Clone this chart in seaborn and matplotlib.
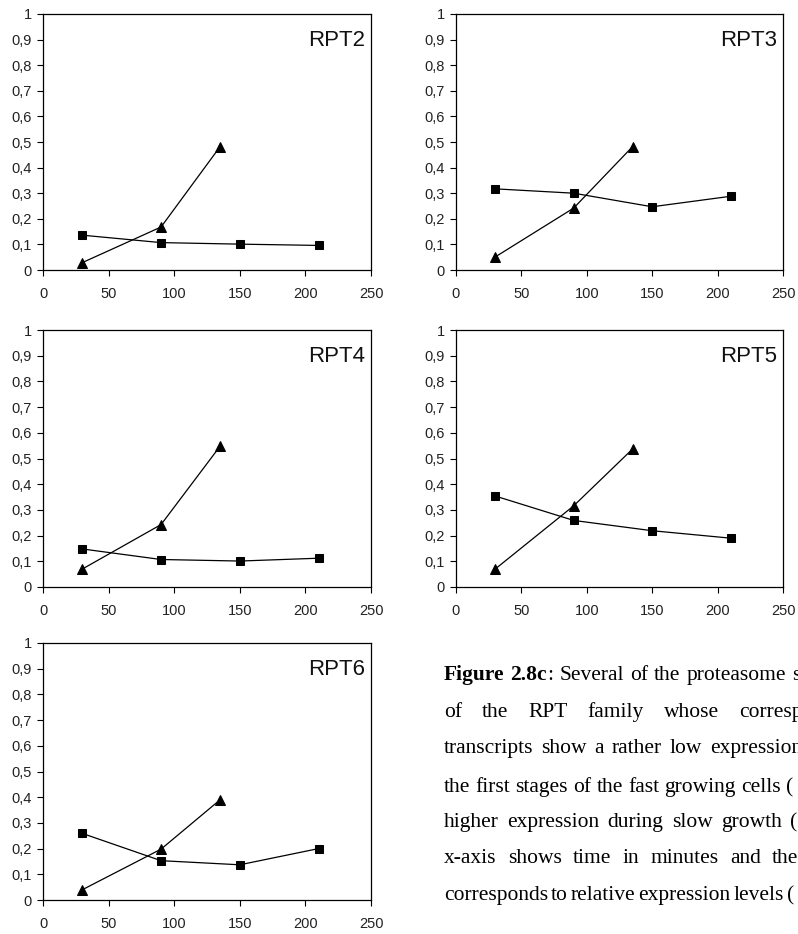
import matplotlib
matplotlib.use("Agg")
import matplotlib.pyplot as plt
import seaborn as sns

# expression data
genes = ["RPT2", "RPT3", "RPT4", "RPT5", "RPT6"]
time_slow = [30, 90, 150, 210]          # squares
time_fast = [30, 90, 135]               # triangles
slow_vals = {
    "RPT2": [0.136, 0.107, 0.101, 0.096],
    "RPT3": [0.317, 0.300, 0.247, 0.288],
    "RPT4": [0.148, 0.107, 0.101, 0.112],
    "RPT5": [0.354, 0.259, 0.219, 0.190],
    "RPT6": [0.259, 0.153, 0.137, 0.200],
}
fast_vals = {
    "RPT2": [0.029, 0.168, 0.482],
    "RPT3": [0.051, 0.242, 0.482],
    "RPT4": [0.070, 0.243, 0.548],
    "RPT5": [0.070, 0.316, 0.537],
    "RPT6": [0.040, 0.198, 0.390],
}
x_ticks = [0, 50, 100, 150, 200, 250]
y_ticks = [0, 0.1, 0.2, 0.3, 0.4, 0.5, 0.6, 0.7, 0.8, 0.9, 1]
y_labels = ["0", "0,1", "0,2", "0,3", "0,4", "0,5", "0,6", "0,7", "0,8", "0,9", "1"]

# caption as it shows on the page (cut off at the right edge)
caption_lines = [
    "Figure 2.8c : Several of the proteasome s",
    "of the RPT family whose corresp",
    "transcripts show a rather low expression",
    "the first stages of the fast growing cells (",
    "higher expression during slow growth (",
    "x-axis shows time in minutes and the",
    "corresponds to relative expression levels (",
]
bold_words = {(0, 0), (0, 1)}
glued_words = {(0, 2)}    # ":" sits right after "2.8c"

sns.set_style("ticks")
plt.rcParams["font.family"] = ["Liberation Sans", "DejaVu Sans"]

W, H = 798, 934
fig = plt.figure(figsize=(W / 100, H / 100), dpi=100)

# panel boxes in pixels: left, top, right, bottom
boxes = {
    "RPT2": (43, 14, 371, 270),
    "RPT3": (456, 14, 783, 270),
    "RPT4": (43, 330, 371, 587),
    "RPT5": (456, 330, 783, 587),
    "RPT6": (43, 643, 371, 900),
}

for g in genes:
    l, t, r, b = boxes[g]
    ax = fig.add_axes([l / W, 1 - b / H, (r - l) / W, (b - t) / H])
    sns.lineplot(x=time_slow, y=slow_vals[g], ax=ax, color="black", marker="s",
                 markersize=5.5, linewidth=0.9, markeredgecolor="black")
    sns.lineplot(x=time_fast, y=fast_vals[g], ax=ax, color="black", marker="^",
                 markersize=7, linewidth=0.9, markeredgecolor="black")
    ax.set_xlim(0, 250)
    ax.set_ylim(0, 1)
    ax.set_xticks(x_ticks)
    ax.set_yticks(y_ticks)
    ax.set_yticklabels(y_labels)
    ax.tick_params(labelsize=10.5, colors="black", labelcolor="#222222",
                   length=4, width=0.8)
    ax.tick_params(axis="y", pad=4)
    ax.tick_params(axis="x", pad=8)
    for sp in ax.spines.values():
        sp.set_visible(True)
        sp.set_color("black")
        sp.set_linewidth(0.9)
    ax.set_xlabel("")
    ax.set_ylabel("")
    ax.text(0.982, 0.895, g, transform=ax.transAxes, ha="right", va="center",
            fontsize=16, color="#111111")

# caption: justified, first word at the left margin, last visible word where the page has it
left_x = 444
last_x = [792, 739, 710, 786, 790, 772, 787]
baselines = [680, 717, 753, 792, 827, 863, 900]
renderer = fig.canvas.get_renderer()
for i, line in enumerate(caption_lines):
    words = line.split(" ")
    items = []
    for j, word in enumerate(words):
        weight = "bold" if (i, j) in bold_words else "normal"
        txt = fig.text(0, 1 - baselines[i] / H, word,
                       family=["Liberation Serif", "DejaVu Serif"], fontsize=15.5,
                       fontweight=weight, ha="left", va="baseline", color="black")
        items.append(txt)
    widths = [t.get_window_extent(renderer).width for t in items]
    n_gaps = sum(1 for j in range(1, len(words)) if (i, j) not in glued_words)
    gap = (last_x[i] - left_x - sum(widths[:-1])) / n_gaps
    x = left_x
    for j, txt in enumerate(items):
        if j > 0:
            x += widths[j - 1] + (0 if (i, j) in glued_words else gap)
        txt.set_x(x / W)

fig.savefig("out.png", dpi=100)
